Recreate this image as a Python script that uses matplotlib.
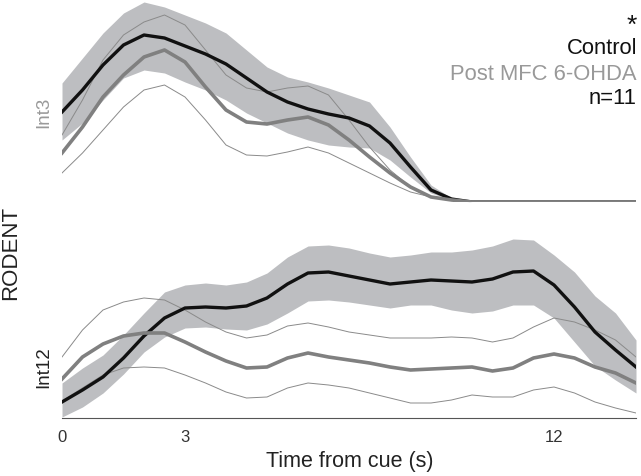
import numpy as np
import matplotlib
matplotlib.use("Agg")
import matplotlib.pyplot as plt

plt.rcParams["font.family"] = ["Liberation Sans", "DejaVu Sans"]

# Time axis (s), sampled every 0.5 s
time_s = np.arange(0, 14.01, 0.5)

# Int3 panel (arbitrary response units)
int3_control = [90, 112, 137, 157, 167, 164, 156, 148, 138, 124, 110, 100, 93, 88, 84, 76, 59, 35, 12, 3,
                0, 0, 0, 0, 0, 0, 0, 0, 0]
int3_control_hi = [119, 144, 169, 189, 200, 195, 187, 179, 169, 152, 135, 125, 120, 114, 107, 100, 75, 45, 17, 4,
                   0, 0, 0, 0, 0, 0, 0, 0, 0]
int3_control_lo = [62, 79, 102, 124, 132, 129, 120, 112, 102, 89, 79, 69, 62, 57, 55, 54, 42, 25, 9, 2,
                   0, 0, 0, 0, 0, 0, 0, 0, 0]
int3_post = [49, 75, 105, 127, 145, 152, 140, 115, 92, 80, 78, 82, 85, 77, 62, 45, 29, 15, 5, 2,
             0, 0, 0, 0, 0, 0, 0, 0, 0]
int3_post_hi = [67, 102, 142, 167, 180, 187, 177, 152, 127, 114, 110, 114, 116, 107, 82, 55, 32, 15, 5, 2,
                0, 0, 0, 0, 0, 0, 0, 0, 0]
int3_post_lo = [29, 49, 72, 95, 112, 117, 105, 82, 57, 47, 46, 50, 55, 49, 39, 29, 19, 10, 5, 2,
                0, 0, 0, 0, 0, 0, 0, 0, 0]

# Int12 panel
int12_control = [16, 28, 41, 60, 82, 100, 110, 111, 110, 112, 120, 134, 145, 146, 142, 138, 134, 136, 138, 137,
                 136, 139, 146, 147, 133, 111, 86, 68, 51]
int12_control_hi = [35, 50, 63, 83, 105, 126, 133, 135, 133, 136, 145, 161, 172, 173, 170, 165, 161, 163, 166, 166,
                    168, 172, 179, 178, 163, 146, 122, 105, 78]
int12_control_lo = [1, 11, 25, 44, 66, 81, 90, 91, 89, 88, 94, 105, 117, 118, 116, 113, 110, 113, 113, 108,
                    105, 107, 113, 113, 100, 76, 52, 38, 25]
int12_post = [39, 61, 74, 82, 85, 85, 76, 66, 57, 50, 51, 60, 65, 61, 58, 55, 51, 48, 49, 50,
              51, 47, 50, 60, 64, 60, 51, 45, 35]
int12_post_hi = [61, 88, 108, 116, 120, 118, 108, 96, 86, 80, 83, 92, 95, 91, 86, 83, 80, 80, 80, 81,
                 80, 76, 80, 91, 100, 96, 88, 78, 61]
int12_post_lo = [17, 30, 43, 50, 51, 50, 43, 35, 26, 20, 21, 30, 35, 33, 30, 25, 20, 15, 15, 18,
                 23, 21, 21, 28, 31, 25, 16, 10, 5]

tick_values = [0, 3, 12]

shade_color = "#bdbec1"
post_color = "#808080"
W, H = 641, 476

fig = plt.figure(figsize=(W / 100, H / 100), dpi=100)
left, right = 62 / W, 636 / W
ax_top = fig.add_axes([left, 1 - 202 / H, right - left, 202 / H])
ax_bot = fig.add_axes([left, 1 - 418 / H, right - left, 190 / H])


def draw_panel(ax, ctl, ctl_hi, ctl_lo, post, post_hi, post_lo):
    ax.fill_between(time_s, ctl_lo, ctl_hi, color=shade_color, lw=0)
    ax.plot(time_s, post_hi, color="#8a8a8a", lw=0.7)
    ax.plot(time_s, post_lo, color="#8a8a8a", lw=0.7)
    ax.plot(time_s, ctl, color="#111111", lw=2.4, solid_joinstyle="round")
    ax.plot(time_s, post, color=post_color, lw=2.6, solid_joinstyle="round")
    ax.set_xlim(0, 14)
    ax.set_yticks([])
    for s in ["top", "right", "left"]:
        ax.spines[s].set_visible(False)


draw_panel(ax_top, int3_control, int3_control_hi, int3_control_lo,
           int3_post, int3_post_hi, int3_post_lo)
ax_top.set_ylim(0, 202)
ax_top.spines["bottom"].set_visible(False)
ax_top.set_xticks([])

draw_panel(ax_bot, int12_control, int12_control_hi, int12_control_lo,
           int12_post, int12_post_hi, int12_post_lo)
ax_bot.set_ylim(0, 190)
ax_bot.spines["bottom"].set_color("#555555")
ax_bot.spines["bottom"].set_linewidth(0.8)
ax_bot.set_xticks(tick_values)
ax_bot.set_xticklabels([str(v) for v in tick_values])
ax_bot.tick_params(axis="x", length=0, pad=9, labelsize=12, labelcolor="#333333")

# Labels
fig.text(44 / W, 1 - 112 / H, "Int3", rotation=90, ha="center", va="center",
         fontsize=13.5, color="#999999")
fig.text(44 / W, 1 - 367 / H, "Int12", rotation=90, ha="center", va="center",
         fontsize=13.5, color="#222222")
fig.text(11 / W, 1 - 253 / H, "RODENT", rotation=90, ha="center", va="center",
         fontsize=16, color="#222222")
fig.text(350 / W, 1 - 462 / H, "Time from cue (s)", ha="center", va="center",
         fontsize=15.5, color="#222222")

# Legend text
lx = 637 / W
fig.text(lx, 1 - 26 / H, "*", ha="right", va="center", fontsize=19, color="#111111")
fig.text(lx, 1 - 48 / H, "Control", ha="right", va="center", fontsize=15.8, color="#111111")
fig.text(lx, 1 - 74 / H, "Post MFC 6-OHDA", ha="right", va="center", fontsize=15.8, color="#999999")
fig.text(lx, 1 - 99 / H, "n=11", ha="right", va="center", fontsize=15.8, color="#111111")

plt.savefig("out.png", dpi=100)
